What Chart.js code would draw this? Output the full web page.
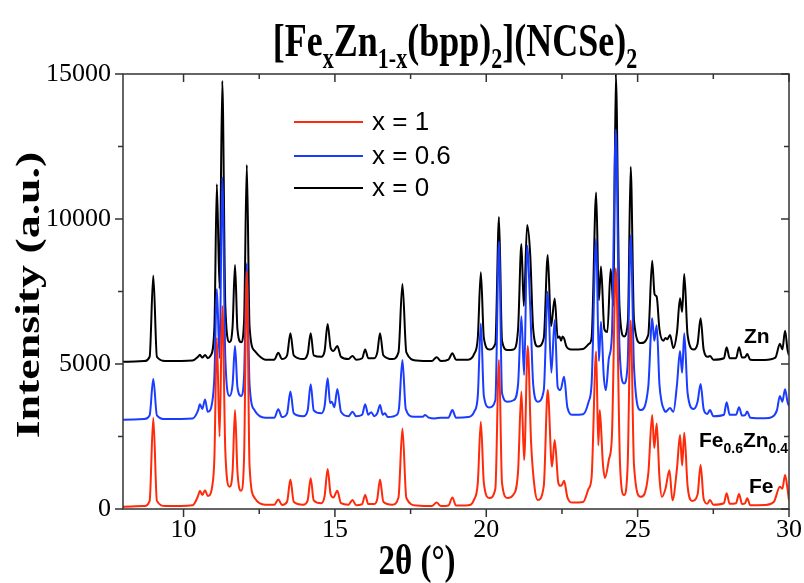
<!DOCTYPE html>
<html>
<head>
<meta charset="utf-8">
<script src="https://cdn.jsdelivr.net/npm/chart.js@4.4.1/dist/chart.umd.min.js"></script>
<style>
  html, body { margin: 0; padding: 0; background: #ffffff; }
  #xrd { display: block; }
</style>
</head>
<body>
<canvas id="xrd"></canvas>
<script>
//---------------------------------------
// Data
//---------------------------------------

// axis ticks
const x_ticks = [10, 15, 20, 25, 30];
const x_minor = [12.5, 17.5, 22.5, 27.5];
const y_ticks = [0, 5000, 10000, 15000];
const y_minor = [2500, 7500, 12500];

const series_labels = ['x = 1', 'x = 0.6', 'x = 0'];

// [2theta, intensity] (x = 1, offset 0)
const pattern_fe = [
  [8.0,80],[8.7,100],[8.88,280],[9.0,3150],[9.12,280],[9.4,100],
  [10.3,130],[10.48,450],[10.54,630],[10.62,480],[10.71,650],[10.8,450],
  [10.95,800],[11.02,1800],[11.1,5900],[11.19,2500],[11.28,7000],[11.38,2000],
  [11.52,770],[11.62,1300],[11.7,3410],[11.78,1300],[11.9,630],[12.0,1800],
  [12.09,8200],[12.18,1500],[12.35,380],[12.7,150],[13.0,150],[13.13,330],
  [13.25,140],[13.42,250],[13.53,1020],[13.64,250],[13.95,150],[14.1,300],
  [14.2,1060],[14.3,300],[14.55,200],[14.66,450],[14.76,1380],[14.86,500],
  [14.95,400],[15.08,630],[15.2,200],[15.45,150],[15.58,310],[15.7,130],
  [15.9,170],[16.0,480],[16.1,170],[16.3,170],[16.4,350],[16.49,1020],
  [16.6,250],[16.9,150],[17.1,400],[17.23,2780],[17.36,380],[17.7,120],
  [18.2,100],[18.36,220],[18.5,100],[18.75,120],[18.88,400],[19.0,120],
  [19.4,130],[19.6,330],[19.72,900],[19.82,3010],[19.92,900],[20.1,380],
  [20.3,700],[20.42,5140],[20.52,900],[20.7,380],[20.9,500],[21.05,1300],
  [21.16,4050],[21.25,1690],[21.37,5620],[21.48,2300],[21.6,700],[21.7,310],
  [21.9,800],[22.03,4100],[22.17,1460],[22.26,2380],[22.38,900],[22.45,800],
  [22.5,830],[22.57,970],[22.68,400],[22.85,220],[23.2,240],[23.38,700],
  [23.48,1110],[23.63,5430],[23.7,2200],[23.75,3410],[23.85,1600],[23.92,1070],
  [24.05,1700],[24.15,2500],[24.28,8300],[24.42,1500],[24.55,480],[24.67,1500],
  [24.77,6500],[24.88,1500],[25.1,420],[25.35,1200],[25.48,3240],[25.55,2100],
  [25.63,2950],[25.72,1100],[25.8,420],[25.92,700],[26.05,1340],[26.15,300],
  [26.3,1400],[26.4,2550],[26.47,1500],[26.54,2630],[26.65,800],[26.8,280],
  [26.98,500],[27.08,1520],[27.18,350],[27.3,180],[27.39,310],[27.5,150],
  [27.85,200],[27.94,540],[28.04,180],[28.25,200],[28.35,520],[28.45,170],
  [28.55,200],[28.62,370],[28.72,130],[29.2,140],[29.5,250],[29.7,770],
  [29.78,700],[29.87,1170],[29.95,700],[30.0,300]
];

// x = 0.6, offset 3000
const pattern_mix = [
  [8.0,3080],[8.7,3100],[8.88,3230],[9.0,4480],[9.12,3230],[9.4,3100],
  [10.3,3120],[10.48,3400],[10.54,3610],[10.62,3450],[10.71,3780],[10.8,3350],
  [10.95,3700],[11.02,4600],[11.1,7590],[11.19,5200],[11.28,11430],[11.38,5200],
  [11.52,3900],[11.62,4300],[11.7,5620],[11.78,4200],[11.9,3900],[12.0,4600],
  [12.09,8470],[12.18,4300],[12.35,3400],[12.7,3150],[13.0,3150],[13.13,3440],
  [13.25,3170],[13.42,3300],[13.53,4050],[13.64,3300],[13.95,3200],[14.1,3400],
  [14.2,4300],[14.3,3400],[14.55,3300],[14.66,3550],[14.76,4510],[14.84,3650],
  [14.9,3700],[14.98,3500],[15.08,4140],[15.2,3350],[15.45,3200],[15.58,3355],
  [15.7,3200],[15.9,3250],[16.0,3610],[16.1,3250],[16.2,3340],[16.3,3200],
  [16.4,3300],[16.49,3590],[16.58,3250],[16.65,3300],[16.75,3170],[17.05,3250],
  [17.12,3500],[17.23,5140],[17.34,3450],[17.6,3180],[17.9,3180],[17.98,3240],
  [18.1,3150],[18.3,3120],[18.5,3150],[18.75,3150],[18.88,3410],[19.0,3150],
  [19.4,3170],[19.6,3350],[19.72,3900],[19.82,6400],[19.92,3900],[20.1,3500],
  [20.3,3750],[20.42,9220],[20.52,4000],[20.7,3700],[20.9,3750],[21.05,4300],
  [21.16,6650],[21.25,4620],[21.35,9080],[21.45,7000],[21.55,4300],[21.7,3700],
  [21.9,4100],[22.03,7490],[22.15,4700],[22.26,6520],[22.36,4200],[22.45,4100],
  [22.57,4560],[22.68,3500],[22.85,3250],[23.2,3270],[23.38,3700],[23.48,4330],
  [23.63,9330],[23.72,5100],[23.79,6460],[23.88,4600],[23.95,4100],[24.05,5200],
  [24.15,6000],[24.28,13090],[24.4,5600],[24.55,4330],[24.67,5000],[24.77,9430],
  [24.88,4900],[25.1,3410],[25.35,4200],[25.48,6575],[25.55,5800],[25.63,6340],
  [25.72,4300],[25.8,3650],[25.85,3480],[25.92,3350],[25.98,3400],[26.07,3480],
  [26.18,3350],[26.3,4300],[26.4,5450],[26.47,4700],[26.54,6060],[26.65,4000],
  [26.85,3450],[26.98,3700],[27.08,4310],[27.18,3450],[27.3,3280],[27.39,3410],
  [27.5,3200],[27.85,3250],[27.94,3680],[28.04,3250],[28.25,3250],[28.35,3510],
  [28.45,3220],[28.55,3240],[28.62,3360],[28.72,3150],[29.2,3130],[29.45,3180],
  [29.6,3400],[29.7,3900],[29.78,3700],[29.87,4130],[29.95,3700],[30.0,3550]
];

// x = 0, offset 5000
const pattern_zn = [
  [8.0,5080],[8.7,5100],[8.88,5250],[9.0,8050],[9.12,5250],[9.4,5100],
  [10.3,5120],[10.48,5250],[10.54,5320],[10.62,5220],[10.71,5310],[10.8,5200],
  [10.9,5300],[11.02,6300],[11.1,11200],[11.19,7600],[11.28,14760],[11.38,7000],
  [11.52,5750],[11.62,6300],[11.7,8410],[11.78,6200],[11.9,5750],[12.0,6500],
  [12.09,11860],[12.18,6300],[12.35,5450],[12.7,5150],[13.0,5150],[13.13,5390],
  [13.25,5170],[13.42,5300],[13.53,6060],[13.64,5300],[13.95,5170],[14.1,5350],
  [14.2,6060],[14.3,5300],[14.55,5250],[14.66,5450],[14.76,6380],[14.86,5550],
  [14.95,5450],[15.08,5620],[15.2,5250],[15.45,5170],[15.58,5280],[15.7,5150],
  [15.9,5200],[16.0,5500],[16.1,5200],[16.3,5200],[16.4,5400],[16.49,6060],
  [16.6,5300],[16.9,5170],[17.1,5400],[17.23,7760],[17.36,5400],[17.7,5120],
  [18.2,5100],[18.36,5230],[18.5,5100],[18.75,5150],[18.88,5370],[19.0,5150],
  [19.4,5150],[19.6,5350],[19.72,5900],[19.82,8160],[19.92,5900],[20.1,5500],
  [20.3,5700],[20.42,10070],[20.52,5800],[20.7,5480],[20.9,5500],[21.05,6200],
  [21.16,9140],[21.24,7000],[21.35,9790],[21.45,8800],[21.55,6200],[21.7,5600],
  [21.9,5900],[22.03,8760],[22.14,6300],[22.26,7260],[22.36,5900],[22.42,5950],
  [22.47,5800],[22.52,5950],[22.57,5880],[22.65,5600],[22.8,5500],[23.2,5520],
  [23.4,5700],[23.48,5900],[23.63,10910],[23.72,7200],[23.79,8360],[23.9,6200],
  [24.0,6100],[24.11,8280],[24.2,7000],[24.28,15000],[24.4,7000],[24.55,5950],
  [24.68,6500],[24.77,11800],[24.88,6500],[25.1,5720],[25.35,6000],[25.48,8560],
  [25.56,7400],[25.63,7320],[25.72,6200],[25.85,5800],[25.92,5900],[25.98,5850],
  [26.07,6000],[26.18,5550],[26.3,6100],[26.4,7265],[26.47,6800],[26.54,8100],
  [26.65,6000],[26.85,5500],[26.98,5700],[27.08,6575],[27.18,5500],[27.32,5250],
  [27.39,5280],[27.5,5150],[27.85,5200],[27.94,5575],[28.04,5200],[28.25,5200],
  [28.35,5575],[28.45,5220],[28.55,5230],[28.62,5345],[28.72,5150],[29.2,5140],
  [29.55,5220],[29.7,5700],[29.78,5500],[29.87,6150],[29.95,5500],[30.0,5300]
];


//---------------------------------------
// Helper
//---------------------------------------

// draw text made of runs, some of them subscripts, stretched vertically
function draw_runs(ctx, runs, x, y, big_font, small_font, sub_off, stretch, align) {
  ctx.save();
  let total = 0;
  for (const r of runs) {
    ctx.font = r.sub ? small_font : big_font;
    r.w = ctx.measureText(r.t).width;
    total += r.w;
  }
  let cx = (align === 'center') ? x - total / 2 : x;
  ctx.translate(0, y);
  ctx.scale(1, stretch);
  ctx.textBaseline = 'alphabetic';
  ctx.textAlign = 'left';
  for (const r of runs) {
    ctx.font = r.sub ? small_font : big_font;
    ctx.fillText(r.t, cx, r.sub ? sub_off : 0);
    cx += r.w;
  }
  ctx.restore();
}

function to_points(ary) {
  return ary.map(p => ({x: p[0], y: p[1]}));
}


//---------------------------------------
// Plugin
//---------------------------------------

const frame_plugin = {
  id: 'frame_plugin',
  afterDraw(chart) {
    const ctx = chart.ctx;
    const a = chart.chartArea;
    const xs = chart.scales.x;
    const ys = chart.scales.y;

    // frame + ticks
    ctx.save();
    ctx.strokeStyle = '#333333';
    ctx.lineWidth = 1.5;
    ctx.strokeRect(a.left, a.top, a.right - a.left, a.bottom - a.top);
    ctx.beginPath();
    const tick_x = (v, len) => {
      const px = xs.getPixelForValue(v);
      ctx.moveTo(px, a.bottom); ctx.lineTo(px, a.bottom + len);
      ctx.moveTo(px, a.top); ctx.lineTo(px, a.top + len);
    };
    const tick_y = (v, len) => {
      const py = ys.getPixelForValue(v);
      ctx.moveTo(a.left - len, py); ctx.lineTo(a.left, py);
      ctx.moveTo(a.right - len, py); ctx.lineTo(a.right, py);
    };
    x_ticks.forEach(v => tick_x(v, 8));
    x_minor.forEach(v => tick_x(v, 5));
    y_ticks.forEach(v => tick_y(v, 8));
    y_minor.forEach(v => tick_y(v, 5));
    ctx.stroke();
    ctx.restore();

    ctx.save();
    ctx.fillStyle = '#000000';

    // title
    draw_runs(ctx, [
      {t: '[Fe'}, {t: 'x', sub: true}, {t: 'Zn'}, {t: '1-x', sub: true},
      {t: '(bpp)'}, {t: '2', sub: true}, {t: '](NCSe)'}, {t: '2', sub: true}
    ], 455, 56, 'bold 36px "Liberation Serif"', 'bold 22px "Liberation Serif"', 9, 1.3, 'center');

    // x axis title
    draw_runs(ctx, [{t: '2\u03b8 (\u00b0)'}], 417, 574,
      'bold 33px "Liberation Serif"', 'bold 20px "Liberation Serif"', 0, 1.25, 'center');

    // y axis title
    ctx.save();
    ctx.translate(39, 295);
    ctx.rotate(-Math.PI / 2);
    ctx.scale(1.39, 1);
    ctx.font = 'bold 33px "Liberation Serif"';
    ctx.textAlign = 'center';
    ctx.textBaseline = 'alphabetic';
    ctx.fillText('Intensity (a.u.)', 0, 0);
    ctx.restore();

    // legend (inside plot)
    const rows = [122, 156, 188];
    chart.data.datasets.forEach((ds, i) => {
      ctx.strokeStyle = ds.borderColor;
      ctx.lineWidth = 2;
      ctx.beginPath();
      ctx.moveTo(294, rows[i]);
      ctx.lineTo(363, rows[i]);
      ctx.stroke();
      ctx.font = '26px "Liberation Sans"';
      ctx.textAlign = 'left';
      ctx.textBaseline = 'middle';
      ctx.fillText(ds.label, 372, rows[i] + 1);
    });

    // curve names
    const big = 'bold 21px "Liberation Sans"';
    const small = 'bold 14px "Liberation Sans"';
    draw_runs(ctx, [{t: 'Zn'}], 744, 343, big, small, 0, 1, 'left');
    draw_runs(ctx, [{t: 'Fe'}, {t: '0.6', sub: true}, {t: 'Zn'}, {t: '0.4', sub: true}],
      699, 447, big, small, 6, 1, 'left');
    draw_runs(ctx, [{t: 'Fe'}], 749, 493, big, small, 0, 1, 'left');
    ctx.restore();
  }
};


//---------------------------------------
// Chart
//---------------------------------------

const canvas = document.getElementById('xrd');
canvas.width = 804;
canvas.height = 583;

const line_common = {
  borderWidth: 2,
  pointRadius: 0,
  fill: false,
  cubicInterpolationMode: 'monotone'
};

new Chart(canvas, {
  type: 'line',
  data: {
    datasets: [
      Object.assign({label: series_labels[0], data: to_points(pattern_fe), borderColor: '#ff2a0a'}, line_common),
      Object.assign({label: series_labels[1], data: to_points(pattern_mix), borderColor: '#1a3cff'}, line_common),
      Object.assign({label: series_labels[2], data: to_points(pattern_zn), borderColor: '#000000'}, line_common)
    ]
  },
  options: {
    responsive: false,
    animation: false,
    layout: { padding: { top: 74, right: 15, left: 0, bottom: 0 } },
    plugins: {
      legend: { display: false },
      title: { display: false },
      tooltip: { enabled: false }
    },
    scales: {
      x: {
        type: 'linear',
        min: 8,
        max: 30,
        grid: { display: false, drawTicks: false },
        border: { display: false },
        afterBuildTicks: (scale) => { scale.ticks = x_ticks.map(v => ({value: v})); },
        afterFit: (scale) => {
          scale.height = 74;
          scale.paddingLeft = 0;
          scale.paddingRight = 0;
        },
        ticks: {
          padding: 6,
          color: '#000000',
          font: { family: '"Liberation Serif"', size: 26 },
          callback: (v) => String(v)
        }
      },
      y: {
        min: 0,
        max: 15000,
        grid: { display: false, drawTicks: false },
        border: { display: false },
        afterBuildTicks: (scale) => { scale.ticks = y_ticks.map(v => ({value: v})); },
        afterFit: (scale) => {
          scale.width = 123;
          scale.paddingTop = 0;
          scale.paddingBottom = 0;
        },
        ticks: {
          padding: 12,
          color: '#000000',
          font: { family: '"Liberation Serif"', size: 26 },
          callback: (v) => String(v)
        }
      }
    }
  },
  plugins: [frame_plugin]
});
</script>
</body>
</html>
